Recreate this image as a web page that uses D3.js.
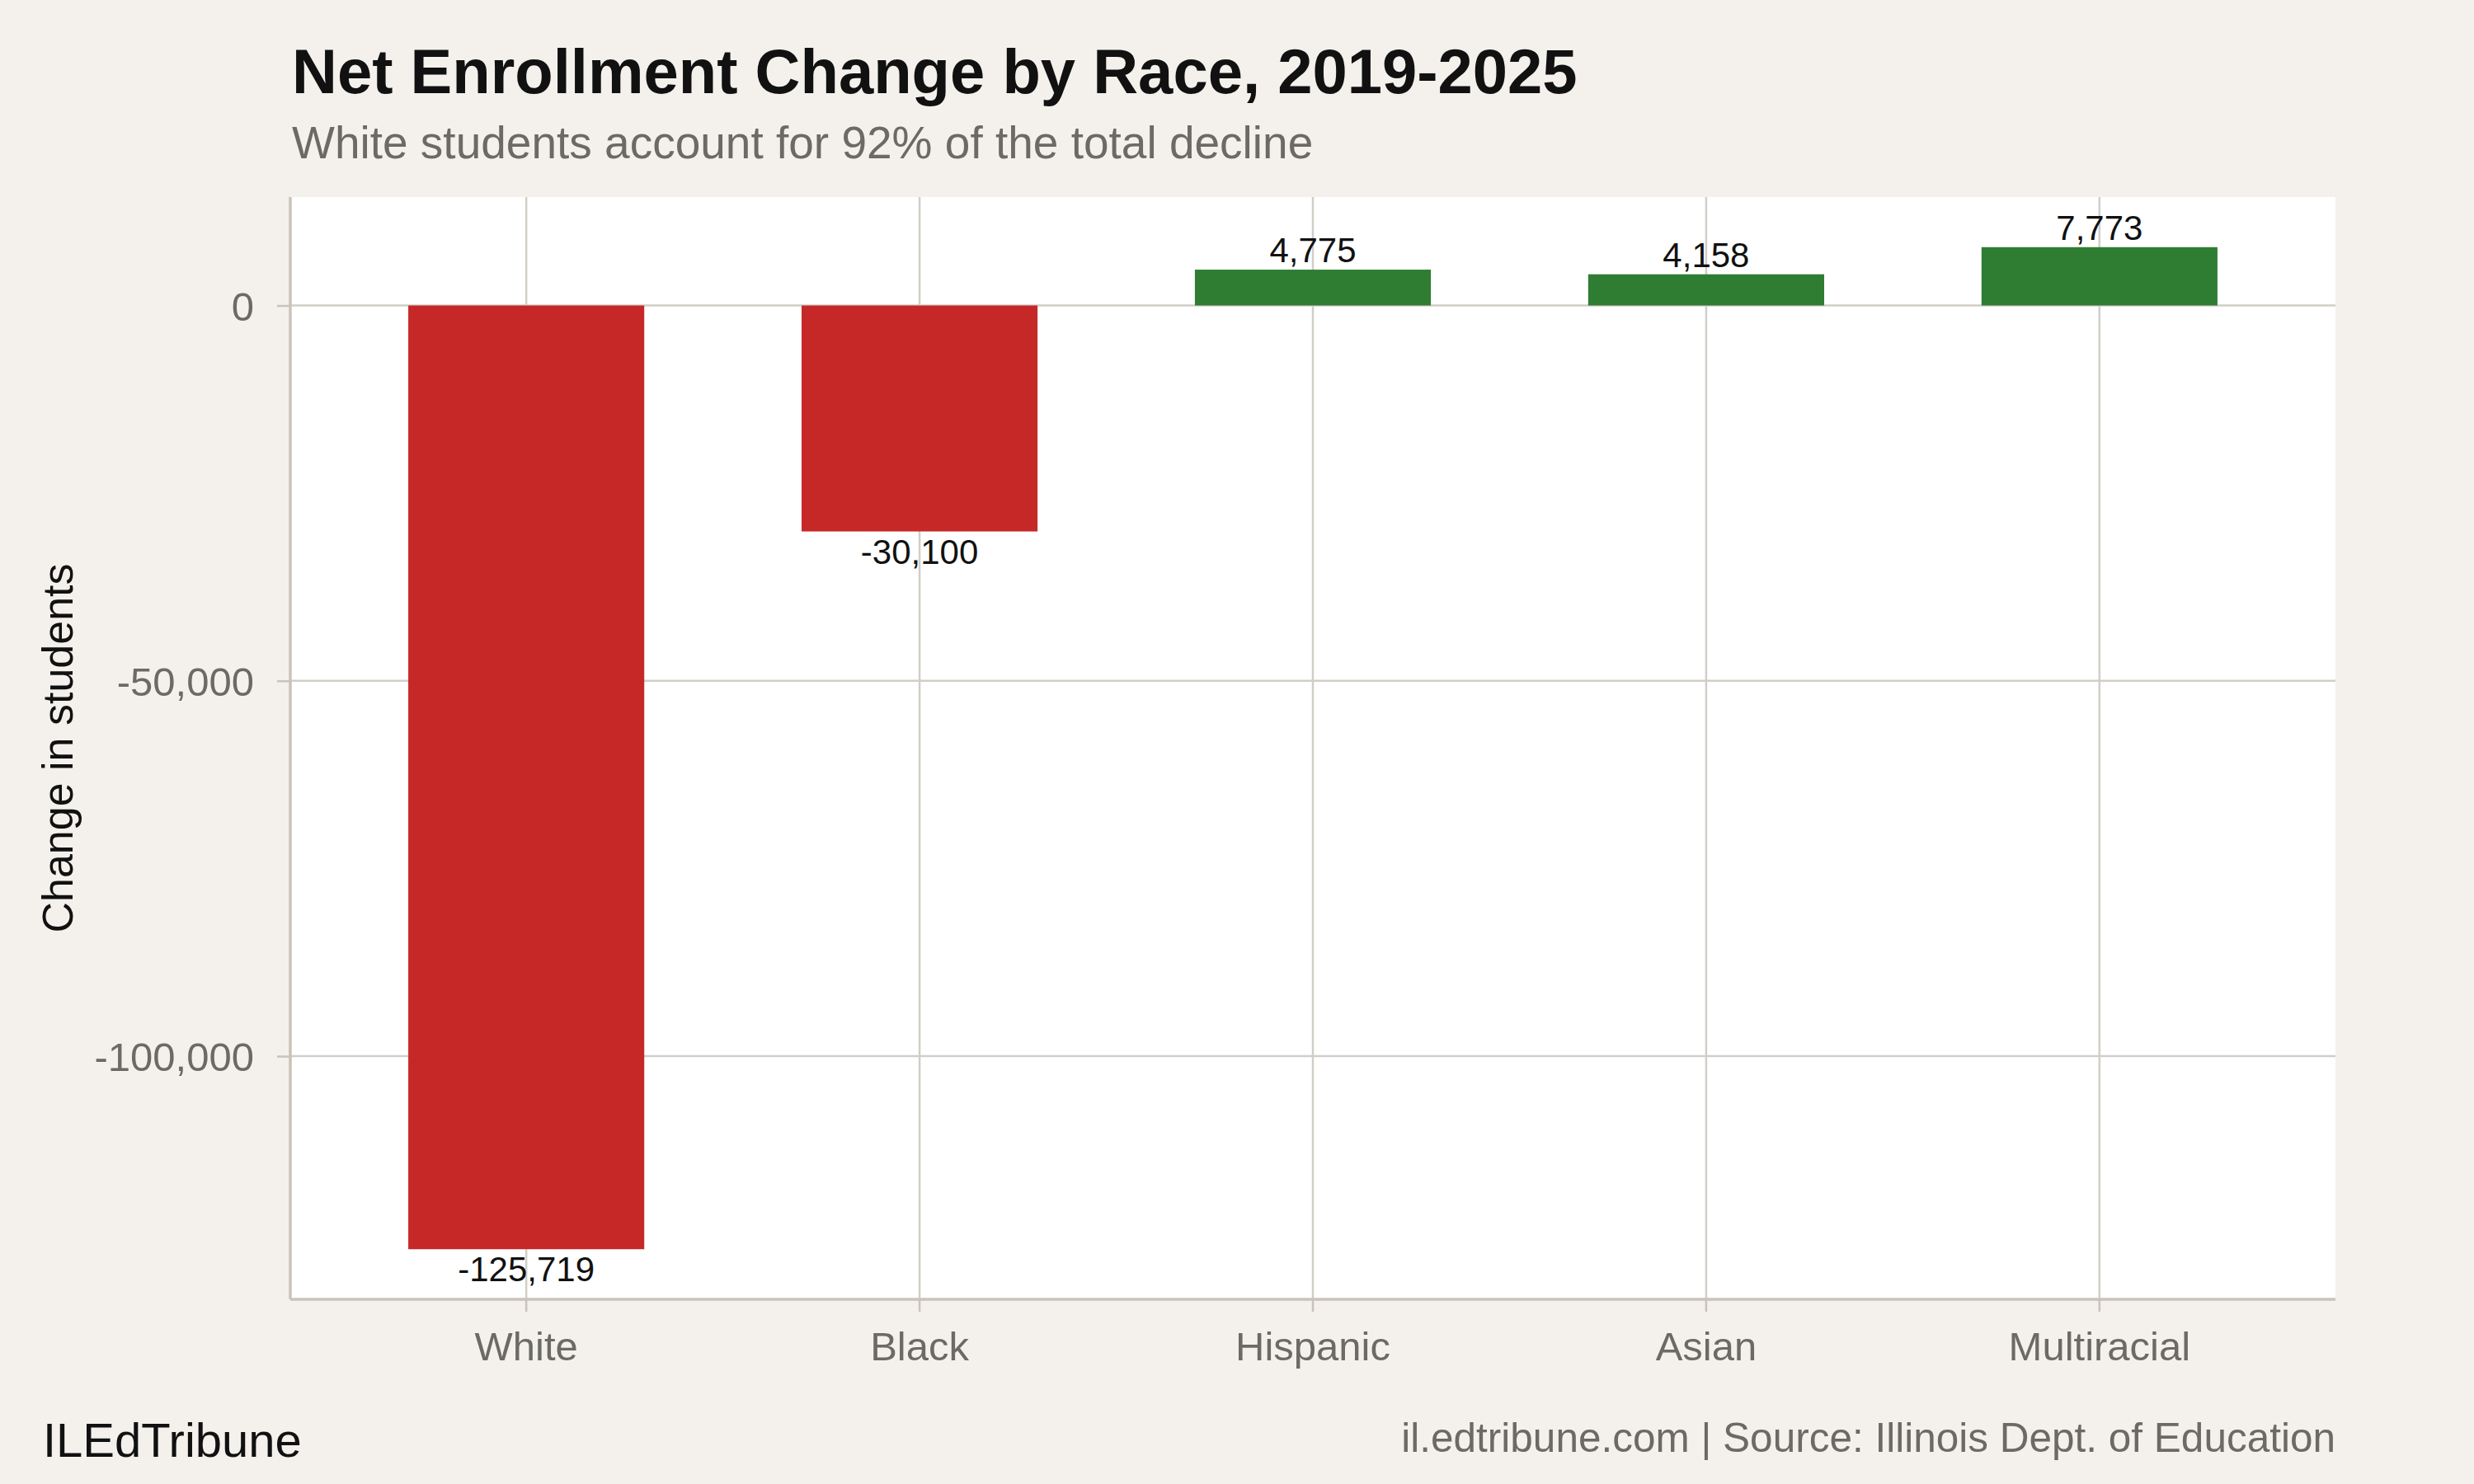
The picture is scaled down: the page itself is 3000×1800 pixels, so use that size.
<!DOCTYPE html>
<meta charset="utf-8">
<style>
  body { margin: 0; background: #f4f1ec; }
  svg { display: block; font-family: "Liberation Sans", Arial, Helvetica, sans-serif; }
</style>
<body>
<div id="chart"></div>
<script src="https://d3js.org/d3.v7.min.js"></script>
<script>

// data
const races = ["White", "Black", "Hispanic", "Asian", "Multiracial"];
const netChange = [-125719, -30100, 4775, 4158, 7773];
const yTicks = [0, -50000, -100000];

const data = races.map((r, i) => ({race: r, value: netChange[i]}));

// layout
const W = 3000, H = 1800;
const margin = {top: 239, right: 168, bottom: 224, left: 352};
const width = W - margin.left - margin.right,
      height = H - margin.top - margin.bottom;

const svg = d3.select("#chart")
  .append("svg")
    .attr("width", W)
    .attr("height", H);

svg.append("rect")
  .attr("width", W).attr("height", H)
  .attr("fill", "#f4f1ec");

// titles
svg.append("text")
  .attr("x", 354).attr("y", 113)
  .attr("font-size", 76).attr("font-weight", "bold")
  .attr("fill", "#111")
  .text("Net Enrollment Change by Race, 2019-2025");

svg.append("text")
  .attr("x", 354).attr("y", 192)
  .attr("font-size", 55)
  .attr("fill", "#6b6a66")
  .text("White students account for 92% of the total decline");

const g = svg.append("g")
  .attr("transform", `translate(${margin.left},${margin.top})`);

// scales (ggplot-like 5% expansion)
const lo = d3.min(netChange), hi = d3.max(netChange);
const pad = (hi - lo) * 0.05;
const y = d3.scaleLinear()
  .domain([lo - pad, hi + pad])
  .range([height, 0]);

const x = d3.scaleBand()
  .domain(races)
  .range([0, width])
  .paddingInner(0.4)
  .paddingOuter(0.3);

// panel
g.append("rect")
  .attr("width", width).attr("height", height)
  .attr("fill", "#fff");

// gridlines
g.append("g")
  .selectAll("line.hgrid")
  .data(yTicks)
  .join("line")
    .attr("x1", 0).attr("x2", width)
    .attr("y1", d => y(d)).attr("y2", d => y(d))
    .attr("stroke", "#d2cec7").attr("stroke-width", 2.5);

g.append("g")
  .selectAll("line.vgrid")
  .data(races)
  .join("line")
    .attr("x1", d => x(d) + x.bandwidth() / 2)
    .attr("x2", d => x(d) + x.bandwidth() / 2)
    .attr("y1", 0).attr("y2", height)
    .attr("stroke", "#d2cec7").attr("stroke-width", 2.5);

// bars
g.selectAll("rect.bar")
  .data(data)
  .join("rect")
    .attr("class", "bar")
    .attr("x", d => x(d.race))
    .attr("width", x.bandwidth())
    .attr("y", d => y(Math.max(0, d.value)))
    .attr("height", d => Math.abs(y(d.value) - y(0)))
    .attr("fill", d => d.value < 0 ? "#c62828" : "#2e7d32");

// value labels
g.selectAll("text.lbl")
  .data(data)
  .join("text")
    .attr("class", "lbl")
    .attr("x", d => x(d.race) + x.bandwidth() / 2)
    .attr("y", d => d.value < 0 ? y(d.value) + 39 : y(d.value) - 9)
    .attr("text-anchor", "middle")
    .attr("font-size", 42)
    .attr("fill", "#111")
    .text(d => d3.format(",")(d.value).replace("−", "-"));

// axes
const yAxis = g.append("g")
  .call(d3.axisLeft(y).tickValues(yTicks).tickSize(16).tickPadding(28)
    .tickFormat(d => d3.format(",")(d).replace("−", "-")));
const xAxis = g.append("g")
  .attr("transform", `translate(0,${height})`)
  .call(d3.axisBottom(x).tickSize(15).tickPadding(14));

[yAxis, xAxis].forEach(a => {
  a.select(".domain").remove();
  a.selectAll(".tick line").attr("stroke", "#c9c3ba").attr("stroke-width", 2.5);
  a.selectAll(".tick text")
    .attr("font-size", 49)
    .attr("fill", "#6b6a66")
    .attr("font-family", "Liberation Sans, Arial, sans-serif");
});
yAxis.selectAll(".tick text").attr("dy", "0.36em");
xAxis.selectAll(".tick text").attr("dy", "0.92em");

// axis lines (left and bottom)
g.append("line")
  .attr("x1", 0).attr("x2", 0).attr("y1", 0).attr("y2", height)
  .attr("stroke", "#c9c3ba").attr("stroke-width", 3.5);
g.append("line")
  .attr("x1", 0).attr("x2", width).attr("y1", height).attr("y2", height)
  .attr("stroke", "#c9c3ba").attr("stroke-width", 3.5);

// y axis title
svg.append("text")
  .attr("transform", `translate(88,${margin.top + height / 2}) rotate(-90)`)
  .attr("text-anchor", "middle")
  .attr("font-size", 52)
  .attr("fill", "#111")
  .text("Change in students");

// footer
svg.append("text")
  .attr("x", 52).attr("y", 1767)
  .attr("font-size", 58)
  .attr("fill", "#111")
  .text("ILEdTribune");

svg.append("text")
  .attr("x", 2832).attr("y", 1761)
  .attr("text-anchor", "end")
  .attr("font-size", 49.5)
  .attr("fill", "#6b6a66")
  .text("il.edtribune.com | Source: Illinois Dept. of Education");

</script>
</body>
